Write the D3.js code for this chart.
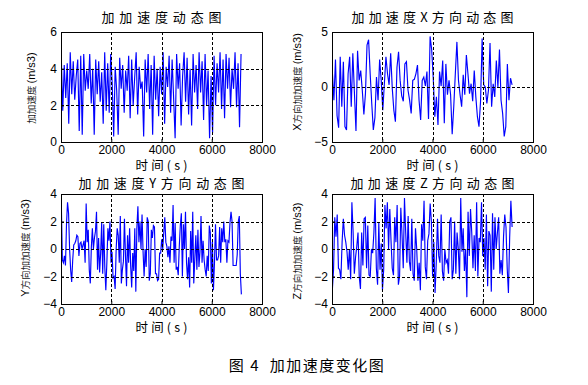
<!DOCTYPE html>
<html>
<head>
<meta charset="utf-8">
<script src="https://cdn.jsdelivr.net/npm/d3@7"></script>
<style>
  body { margin: 0; background: #fff; }
  text { fill: #000; }
</style>
</head>
<body>
<div id="chart"></div>
<script>
// jerk samples (m/s3), evenly spaced over the run
const jerkTotal = [4.7,1.7,4.2,2.4,4.3,1.0,4.9,2.6,4.4,2.3,3.6,4.5,0.6,4.7,0.4,4.8,2.8,3.9,2.9,4.8,2.1,4.0,0.4,4.5,2.6,4.4,2.2,3.8,1.0,4.9,1.7,4.3,1.6,4.8,
  3.2,0.3,4.1,2.8,0.4,4.6,2.9,4.2,1.6,3.9,2.8,4.7,1.3,4.5,2.0,3.5,4.9,1.5,4.1,2.9,3.3,0.3,4.5,2.7,4.8,1.8,4.2,0.4,4.7,2.3,4.0,1.4,4.1,
  2.6,4.9,1.0,4.1,3.0,4.7,1.6,4.5,2.4,0.2,4.8,2.9,4.3,0.9,3.6,4.9,2.2,4.6,1.5,4.0,0.9,4.8,2.7,4.2,1.8,4.9,2.7,4.4,1.2,4.8,2.0,3.9,0.2,3.6,
  0.5,4.7,2.0,4.3,2.7,4.9,1.8,4.5,1.3,4.8,2.9,4.6,1.9,4.0,2.9,4.9,1.9,4.3,0.8,4.8];

const jerkX = [1.4,-1.2,2.5,-2.6,-3.7,2.75,-1.8,2.3,-3.6,-3.9,1.2,2.75,-1.8,3.06,-0.5,-4.0,3.3,0.6,1.5,-0.3,-2.5,-0.6,3.8,4.3,1.2,-1.5,-3.9,-2.8,0.9,-1.2,
  2.5,0.6,-2.1,0.3,2.75,1.2,0.2,3.06,-0.1,-2.1,-3.15,1.8,3.2,0.6,-0.8,-1.3,2.1,2.3,-0.3,-1.2,-2.4,0.6,0.7,1.2,2.0,-1.2,-3.0,0.6,0.9,0.1,
  1.4,-2.9,4.6,3.4,0.8,-2.7,-0.9,-3.45,1.4,0.1,2.4,-3.3,2.1,-0.7,0.6,-0.7,-4.3,-1.8,1.2,4.1,0.6,-0.7,-1.8,1.1,-0.7,2.9,1.2,-0.6,0.3,-1.3,
  1.5,-0.9,-2.7,-3.6,-1.3,4.4,0.2,0.0,-1.5,-0.3,4.0,-1.8,0.3,-0.9,2.4,0.0,3.4,-1.2,-2.4,-4.5,-3.6,2.1,-1.2,0.8,0.2];

const jerkY = [3.3,-0.8,-1.0,-0.5,-1.2,1.8,3.4,2.6,0.0,-1.5,-2.4,-0.8,0.3,0.4,0.6,1.0,0.9,-0.5,0.4,0.5,0.0,0.3,0.6,-1.0,3.3,0.5,1.4,-1.5,-2.5,0.1,
  1.5,0.0,0.8,1.3,2.7,-1.5,0.8,-1.7,-0.3,1.9,-1.8,1.8,-1.3,-3.0,-1.0,1.5,0.6,2.0,-1.0,-0.2,-2.1,-2.0,-2.9,0.0,1.5,1.0,-1.0,2.4,-2.5,-1.5,
  -0.9,2.2,-0.5,-2.7,1.0,-1.0,1.5,-1.2,-2.8,-0.3,-1.6,1.5,-3.1,1.5,3.1,0.5,2.0,0.0,2.5,-0.2,-2.0,0.0,-1.3,2.3,2.0,-2.3,-1.8,1.4,0.8,1.7,
  1.6,-1.8,-1.8,-2.3,-2.2,-0.3,-0.3,0.7,0.0,1.2,2.3,0.5,0.2,-0.6,0.2,-1.0,0.9,0.6,3.2,-1.0,1.9,-1.5,-1.3,-1.9,0.2,1.7,2.6,-2.0,1.8,0.0,
  2.7,-1.0,-2.2,-0.6,-2.8,1.3,-1.0,2.7,-2.5,-0.7,1.0,-1.5,1.4,-1.3,-0.2,2.4,-1.0,0.6,-0.8,-1.5,-2.0,-0.5,-1.6,1.7,1.2,-2.5,0.5,-3.0,-1.0,1.8,
  -0.8,-0.8,-0.5,1.6,-1.0,1.5,0.5,2.0,0.5,0.7,-1.0,0.6,0.5,1.9,2.7,2.0,-1.2,-1.2,-1.2,-1.2,-0.4,2.0,2.4,-1.8,-3.3];

const jerkZ = [-3.0,-1.5,2.3,0.9,2.5,-1.4,-1.5,-2.2,0.5,2.2,1.0,0.5,-0.2,-1.5,0.0,-2.2,3.4,1.2,-1.8,-0.6,0.2,1.2,-2.0,-2.9,1.2,-1.2,2.2,2.3,-1.4,1.7,
  -1.9,-2.0,0.0,-0.3,1.2,3.7,-1.4,-2.6,1.9,-1.5,0.4,-3.0,-1.5,3.2,1.5,3.4,0.0,2.9,0.6,-1.4,-1.9,2.3,0.5,3.2,-2.6,-2.0,3.0,1.0,-1.4,3.7,
  1.2,-1.0,2.4,-0.9,-1.6,2.2,-1.8,-2.3,1.5,0.0,-2.3,-1.0,-3.0,1.8,0.6,3.5,-1.3,-2.2,0.6,1.1,3.3,2.0,-2.0,0.5,-3.2,-1.0,2.2,-0.5,-1.0,2.5,
  -1.6,-2.3,0.0,-1.0,-0.8,-1.8,2.0,2.3,-2.2,-1.5,2.0,-1.8,1.2,0.0,-2.2,3.7,-0.2,1.5,-1.6,0.0,-3.5,2.7,-0.5,2.9,1.2,-1.4,1.0,-1.6,3.4,-2.0,
  0.8,0.5,3.4,-0.5,0.8,-1.5,2.5,-2.7,1.3,1.0,-3.1,2.6,-1.5,2.3,0.0,1.2,2.3,-1.8,-0.8,-1.9,0.9,2.5,1.6,-1.4,-3.2,0.8,3.5,1.6];

// first and last sample time (s) of each record
const spanTotal = [10, 7166];
const spanX = [13, 7168];
const spanY = [13, 7179];
const spanZ = [13, 7168];

const xTicks = [0, 2000, 4000, 6000, 8000];
const titles = ["加加速度动态图", "加加速度X方向动态图", "加加速度Y方向动态图", "加加速度Z方向动态图"];
const yPrefixes = ["", "X方向", "Y方向", "Z方向"];
const yDomains = [[0, 6], [-5, 5], [-4, 4], [-4, 4]];
const yTickLists = [[0, 2, 4, 6], [-5, 0, 5], [-4, -2, 0, 2, 4], [-4, -2, 0, 2, 4]];
const xLabel = "时间(s)";
const caption = "图 4\u00a0\u00a0加加速度变化图";

const width = 588, height = 385;
const cjk = "'Noto Sans CJK SC', sans-serif";
const latin = "'Liberation Sans', Arial, sans-serif";

const svg = d3.select("#chart").append("svg")
  .attr("width", width)
  .attr("height", height);

svg.append("rect").attr("width", width).attr("height", height).attr("fill", "#fff");

// panel placement: left, top, title baseline, and where the rotated y label sits
const layout = [
  { left: 61, top: 32, titleY: 22, titleW: 120, labelX: 35, labelY: 88 },
  { left: 332, top: 32, titleY: 22, titleW: 162, labelX: 301, labelY: 82 },
  { left: 61, top: 194, titleY: 188, titleW: 166, labelX: 29, labelY: 248 },
  { left: 332, top: 194, titleY: 188, titleW: 164, labelX: 301, labelY: 251 }
];
const pw = 201, ph = 110;

const series = [jerkTotal, jerkX, jerkY, jerkZ];
const spans = [spanTotal, spanX, spanY, spanZ];

series.forEach((values, i) => {
  const L = layout[i];
  const g = svg.append("g").attr("transform", `translate(${L.left},${L.top})`);

  const x = d3.scaleLinear().domain([0, 8000]).range([0, pw]);
  const y = d3.scaleLinear().domain(yDomains[i]).range([ph, 0]);

  const [t0, t1] = spans[i];
  const pts = values.map((v, k) => [t0 + k * (t1 - t0) / (values.length - 1), v]);

  const clipId = `clip${i}`;
  g.append("clipPath").attr("id", clipId)
    .append("rect").attr("width", pw).attr("height", ph);

  // signal
  g.append("path")
    .datum(pts)
    .attr("clip-path", `url(#${clipId})`)
    .attr("fill", "none")
    .attr("stroke", "#0000ff")
    .attr("stroke-width", 1.15)
    .attr("d", d3.line().x(d => x(d[0])).y(d => y(d[1])));

  // dashed grid (drawn over the signal like the original)
  const dom = yDomains[i];
  g.append("g").selectAll("line")
    .data(xTicks.filter(t => t > 0 && t < 8000))
    .enter().append("line")
    .attr("x1", d => Math.round(x(d)) + 0.5).attr("x2", d => Math.round(x(d)) + 0.5)
    .attr("y1", 0).attr("y2", ph)
    .attr("stroke", "#000").attr("stroke-dasharray", "3,2");
  g.append("g").selectAll("line")
    .data(yTickLists[i].filter(t => t > dom[0] && t < dom[1]))
    .enter().append("line")
    .attr("y1", d => Math.round(y(d)) + 0.5).attr("y2", d => Math.round(y(d)) + 0.5)
    .attr("x1", 0).attr("x2", pw)
    .attr("stroke", "#000").attr("stroke-dasharray", "3,2");

  // axes with inward ticks
  const xa = g.append("g").attr("transform", `translate(0,${ph})`)
    .call(d3.axisBottom(x).tickValues(xTicks).tickSize(-3).tickPadding(3).tickFormat(d3.format("d")));
  const ya = g.append("g")
    .call(d3.axisLeft(y).tickValues(yTickLists[i]).tickSize(-3).tickPadding(4).tickFormat(d3.format("d")));
  [xa, ya].forEach(a => {
    a.select(".domain").remove();
    a.selectAll("text").style("font-family", latin).style("font-size", "12px").attr("fill", "#000");
  });

  g.append("rect")
    .attr("x", 0.5).attr("y", 0.5)
    .attr("width", pw).attr("height", ph)
    .attr("fill", "none").attr("stroke", "#000");

  // title
  svg.append("text")
    .attr("x", L.left + pw / 2 - L.titleW / 2)
    .attr("y", L.titleY)
    .attr("textLength", L.titleW)
    .attr("lengthAdjust", "spacing")
    .style("font-family", cjk).style("font-size", "13px")
    .text(titles[i]);

  // x label
  svg.append("text")
    .attr("x", L.left + pw / 2 - 26)
    .attr("y", L.top + ph + 28)
    .attr("textLength", 52)
    .attr("lengthAdjust", "spacing")
    .style("font-family", cjk).style("font-size", "12.5px")
    .text(xLabel);

  // y label
  const yl = svg.append("text")
    .attr("transform", `translate(${L.labelX},${L.labelY}) rotate(-90)`)
    .attr("text-anchor", "middle");
  yl.append("tspan").style("font-family", latin).style("font-size", "11px")
    .text(yPrefixes[i].slice(0, 1));
  yl.append("tspan").style("font-family", cjk).style("font-size", "9.5px").attr("fill", "#222")
    .text(yPrefixes[i].slice(1) + "加加速度 ");
  yl.append("tspan").style("font-family", latin).style("font-size", "11px")
    .text("(m/s3)");
});

svg.append("text")
  .attr("x", 307)
  .attr("y", 371)
  .attr("text-anchor", "middle")
  .style("font-family", cjk).style("font-size", "15px")
  .style("letter-spacing", "1.5px")
  .text(caption);
</script>
</body>
</html>
